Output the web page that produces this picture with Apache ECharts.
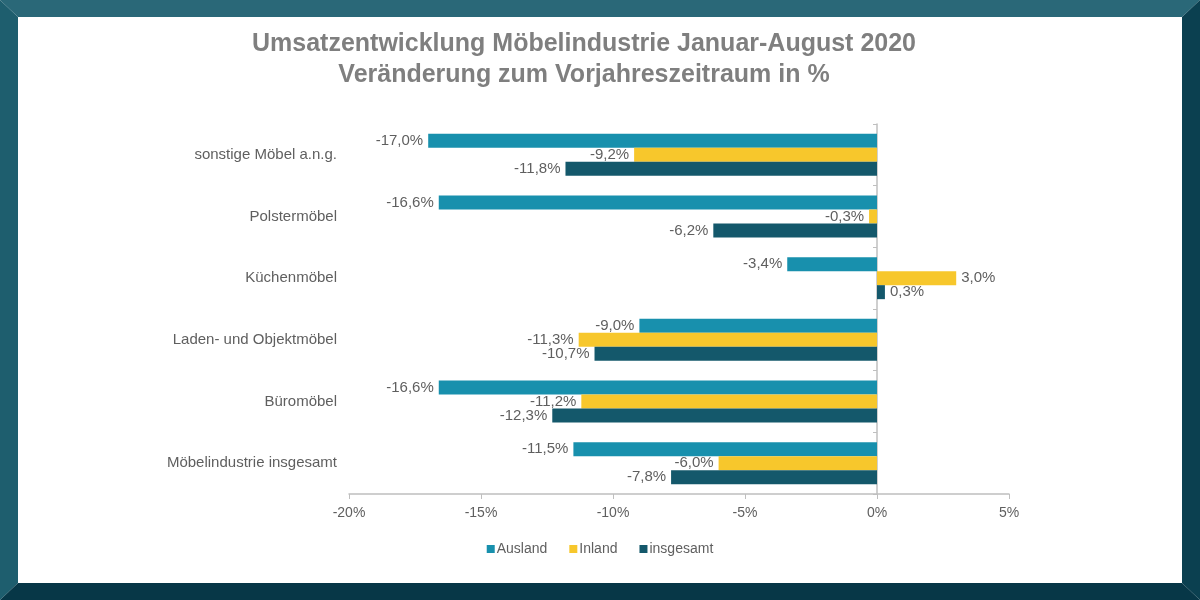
<!DOCTYPE html>
<html>
<head>
<meta charset="utf-8">
<script src="https://cdn.jsdelivr.net/npm/echarts@6/dist/echarts.min.js"></script>
<style>
  html, body { margin: 0; padding: 0; }
  #main { width: 1200px; height: 600px; }
</style>
</head>
<body>
<div id="main"></div>
<script>
// Kategorien von oben nach unten
var categories = [
    'sonstige Möbel a.n.g.',
    'Polstermöbel',
    'Küchenmöbel',
    'Laden- und Objektmöbel',
    'Büromöbel',
    'Möbelindustrie insgesamt'
];
var ausland   = [-17.0, -16.6, -3.4, -9.0, -16.6, -11.5];
var inland    = [-9.2, -0.3, 3.0, -11.3, -11.2, -6.0];
var insgesamt = [-11.8, -6.2, 0.3, -10.7, -12.3, -7.8];
var xTicks = [-20, -15, -10, -5, 0, 5];

var font = 'Liberation Sans, Arial, sans-serif';
var grey = '#5f5f5f';

function fmt(v) {
    return v.toFixed(1).replace('.', ',') + '%';
}

function withLabels(arr) {
    return arr.map(function (v) {
        return {
            value: v,
            label: { position: v < 0 ? 'left' : 'right' }
        };
    });
}

var labelStyle = {
    show: true,
    distance: 5,
    color: grey,
    fontSize: 15,
    fontFamily: font,
    formatter: function (p) { return fmt(p.value); }
};

var myChart = echarts.init(document.getElementById('main'));

myChart.setOption({
    backgroundColor: '#ffffff',
    animation: false,
    textStyle: { fontFamily: font },
    color: ['#1890ad', '#f7c72c', '#14586b'],
    graphic: [
        // Rahmen
        { type: 'polygon', z: -10, shape: { points: [[0, 0], [1200, 0], [1182, 17], [18, 17]] }, style: { fill: '#2a6878' } },
        { type: 'polygon', z: -10, shape: { points: [[0, 0], [18, 17], [18, 583], [0, 600]] }, style: { fill: '#1e5e6e' } },
        { type: 'polygon', z: -10, shape: { points: [[1200, 0], [1200, 600], [1182, 583], [1182, 17]] }, style: { fill: '#0b4050' } },
        { type: 'polygon', z: -10, shape: { points: [[0, 600], [18, 583], [1182, 583], [1200, 600]] }, style: { fill: '#073747' } }
    ],
    title: {
        text: 'Umsatzentwicklung Möbelindustrie Januar-August 2020\nVeränderung zum Vorjahreszeitraum in %',
        left: 579,
        top: 24,
        textAlign: 'center',
        textStyle: {
            color: '#7f7f7f',
            fontSize: 25,
            fontWeight: 'bold',
            fontFamily: font,
            lineHeight: 31
        }
    },
    legend: {
        data: ['Ausland', 'Inland', 'insgesamt'],
        left: 'center',
        top: 537,
        icon: 'rect',
        itemWidth: 8,
        itemHeight: 8,
        itemGap: 22,
        textStyle: { color: grey, fontSize: 14, fontFamily: font, padding: [0, 0, 0, -3] }
    },
    grid: {
        left: 349,
        right: 191,
        top: 124,
        bottom: 106,
        containLabel: false
    },
    xAxis: {
        type: 'value',
        min: xTicks[0],
        max: xTicks[xTicks.length - 1],
        interval: 5,
        axisLine: { show: true, lineStyle: { color: '#bfbfbf', width: 1.5 } },
        axisTick: { show: true, length: 5, lineStyle: { color: '#bfbfbf' } },
        splitLine: { show: false },
        axisLabel: {
            color: grey,
            fontSize: 14,
            fontFamily: font,
            margin: 12,
            formatter: function (v) { return v + '%'; }
        }
    },
    yAxis: [
        {
            type: 'category',
            data: categories,
            inverse: true,
            axisLine: { show: false, onZero: false },
            axisTick: { show: false },
            axisLabel: { color: grey, fontSize: 15, fontFamily: font, margin: 12 }
        },
        {
            type: 'category',
            data: categories,
            inverse: true,
            position: 'left',
            axisLine: { show: true, onZero: true, lineStyle: { color: '#bfbfbf', width: 1.5 } },
            axisTick: { show: true, length: 4, lineStyle: { color: '#bfbfbf' } },
            axisLabel: { show: false }
        }
    ],
    series: [
        {
            name: 'Ausland',
            type: 'bar',
            barWidth: 14,
            barGap: '0%',
            label: labelStyle,
            data: withLabels(ausland)
        },
        {
            name: 'Inland',
            type: 'bar',
            barWidth: 14,
            barGap: '0%',
            label: labelStyle,
            data: withLabels(inland)
        },
        {
            name: 'insgesamt',
            type: 'bar',
            barWidth: 14,
            barGap: '0%',
            label: labelStyle,
            data: withLabels(insgesamt)
        }
    ]
});
</script>
</body>
</html>
